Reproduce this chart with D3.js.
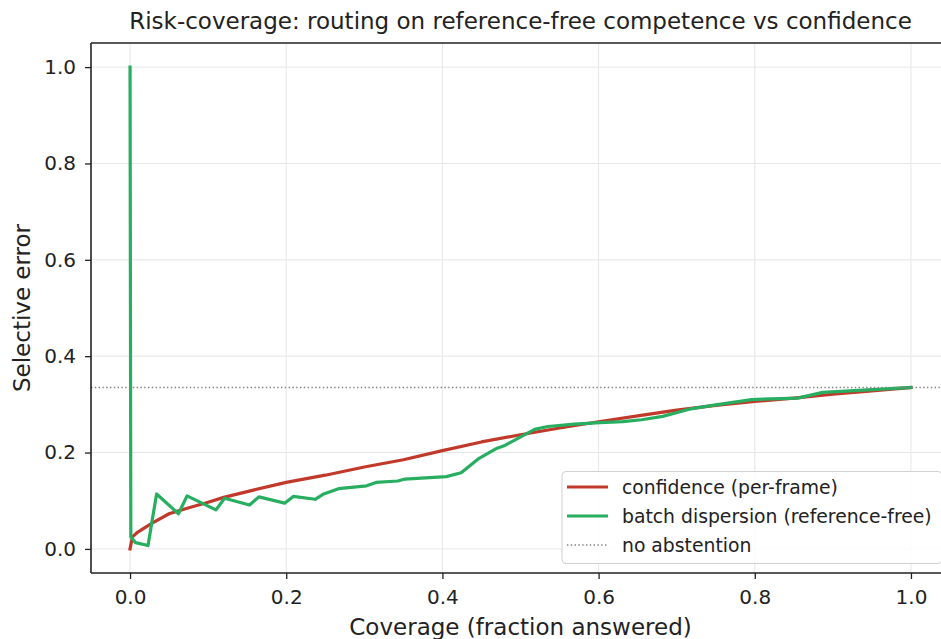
<!DOCTYPE html>
<html>
<head>
<meta charset="utf-8">
<script src="https://cdn.jsdelivr.net/npm/d3@7"></script>
<style>
  html, body { margin: 0; padding: 0; background: #fff; }
  svg { display: block; font-family: "DejaVu Sans", sans-serif; }
</style>
</head>
<body>
<svg id="chart" width="941" height="639"></svg>
<script>
// Risk-coverage curves: selective error vs coverage for two routing scores
const confidenceCoverage = [0, 0.003, 0.01, 0.02, 0.03, 0.05, 0.07, 0.1, 0.12, 0.15, 0.2, 0.25, 0.3, 0.35, 0.4, 0.45, 0.5, 0.55, 0.6, 0.65, 0.7, 0.75, 0.8, 0.85, 0.9, 0.95, 1.0];
const confidenceError    = [0, 0.025, 0.035, 0.045, 0.055, 0.073, 0.083, 0.097, 0.107, 0.119, 0.138, 0.153, 0.170, 0.185, 0.204, 0.222, 0.237, 0.251, 0.264, 0.276, 0.288, 0.298, 0.306, 0.313, 0.321, 0.328, 0.335];

const dispersionCoverage = [0, 0.001, 0.007, 0.023, 0.034, 0.062, 0.073, 0.110, 0.121, 0.153, 0.165, 0.198, 0.209, 0.237, 0.248, 0.267, 0.303, 0.315, 0.343, 0.352, 0.405, 0.424, 0.447, 0.470, 0.479, 0.518, 0.535, 0.569, 0.602, 0.631, 0.655, 0.682, 0.716, 0.750, 0.796, 0.855, 0.887, 1.0];
const dispersionError    = [1.0, 0.025, 0.013, 0.007, 0.114, 0.073, 0.110, 0.081, 0.105, 0.091, 0.108, 0.095, 0.109, 0.103, 0.114, 0.125, 0.131, 0.138, 0.141, 0.145, 0.150, 0.158, 0.188, 0.209, 0.214, 0.248, 0.254, 0.259, 0.262, 0.264, 0.268, 0.275, 0.290, 0.299, 0.310, 0.313, 0.325, 0.335];

const baselineError = 0.335;   // error when every item is answered

const xTicks = [0.0, 0.2, 0.4, 0.6, 0.8, 1.0];
const yTicks = [0.0, 0.2, 0.4, 0.6, 0.8, 1.0];

const seriesNames = ["confidence (per-frame)", "batch dispersion (reference-free)", "no abstention"];
const colors = { confidence: "#c0392b", dispersion: "#27ae60", baseline: "#808080" };

const svg = d3.select("#chart");
const plot = { left: 91, right: 950, top: 43, bottom: 573 };

const x = d3.scaleLinear().domain([-0.05, 1.05]).range([plot.left, plot.right]);
const y = d3.scaleLinear().domain([-0.05, 1.05]).range([plot.bottom, plot.top]);

// grid
const grid = svg.append("g");
grid.selectAll("line.vx").data(xTicks).join("line")
  .attr("x1", d => x(d)).attr("x2", d => x(d))
  .attr("y1", plot.top).attr("y2", plot.bottom)
  .attr("stroke", "#e6e6e6").attr("stroke-width", 1);
grid.selectAll("line.hy").data(yTicks).join("line")
  .attr("y1", d => y(d)).attr("y2", d => y(d))
  .attr("x1", plot.left).attr("x2", plot.right)
  .attr("stroke", "#e6e6e6").attr("stroke-width", 1);

// curves
const toPoints = (xs, ys) => xs.map((v, i) => [v, ys[i]]);
const line = d3.line().x(d => x(d[0])).y(d => y(d[1]));

svg.append("path")
  .datum(toPoints(confidenceCoverage, confidenceError))
  .attr("d", line).attr("fill", "none")
  .attr("stroke", colors.confidence).attr("stroke-width", 3.2)
  .attr("stroke-linejoin", "round").attr("stroke-linecap", "square");

svg.append("path")
  .datum(toPoints(dispersionCoverage, dispersionError))
  .attr("d", line).attr("fill", "none")
  .attr("stroke", colors.dispersion).attr("stroke-width", 3.2)
  .attr("stroke-linejoin", "round").attr("stroke-linecap", "square");

svg.append("line")
  .attr("x1", plot.left).attr("x2", plot.right)
  .attr("y1", y(baselineError)).attr("y2", y(baselineError))
  .attr("stroke", colors.baseline).attr("stroke-width", 1.4)
  .attr("stroke-dasharray", "1.4,2.4");

// axes
const xAxis = svg.append("g")
  .attr("transform", `translate(0,${plot.bottom})`)
  .call(d3.axisBottom(x).tickValues(xTicks).tickFormat(d3.format(".1f")).tickSize(6).tickPadding(11));
const yAxis = svg.append("g")
  .attr("transform", `translate(${plot.left},0)`)
  .call(d3.axisLeft(y).tickValues(yTicks).tickFormat(d3.format(".1f")).tickSize(6).tickPadding(9));

[xAxis, yAxis].forEach(g => {
  g.select(".domain").remove();
  g.selectAll(".tick line").attr("stroke", "#222").attr("stroke-width", 1.3);
  g.selectAll(".tick text").attr("fill", "#222").style("font-size", "20px")
    .style("font-family", "DejaVu Sans, sans-serif");
});

// spines
const spine = svg.append("g").attr("stroke", "#222").attr("stroke-width", 1.6).attr("fill", "none");
spine.append("line").attr("x1", plot.left).attr("x2", plot.left).attr("y1", plot.top).attr("y2", plot.bottom);
spine.append("line").attr("x1", plot.left).attr("x2", plot.right).attr("y1", plot.bottom).attr("y2", plot.bottom);
spine.append("line").attr("x1", plot.left).attr("x2", plot.right).attr("y1", plot.top).attr("y2", plot.top);
spine.append("line").attr("x1", plot.right).attr("x2", plot.right).attr("y1", plot.top).attr("y2", plot.bottom);

// titles
const cx = (plot.left + plot.right) / 2;
svg.append("text").attr("x", cx).attr("y", 29).attr("text-anchor", "middle")
  .attr("fill", "#222").style("font-size", "23px")
  .text("Risk-coverage: routing on reference-free competence vs confidence");
svg.append("text").attr("x", cx).attr("y", 635).attr("text-anchor", "middle")
  .attr("fill", "#222").style("font-size", "23px")
  .text("Coverage (fraction answered)");
svg.append("text")
  .attr("transform", `translate(30,${(plot.top + plot.bottom) / 2}) rotate(-90)`)
  .attr("text-anchor", "middle").attr("fill", "#222").style("font-size", "23px")
  .text("Selective error");

// legend
const legend = svg.append("g").attr("transform", "translate(562,471.5)");
legend.append("rect").attr("width", 380).attr("height", 92).attr("rx", 4)
  .attr("fill", "#fff").attr("fill-opacity", 0.85)
  .attr("stroke", "#d0d0d0").attr("stroke-width", 1);
const legendItems = [
  { name: seriesNames[0], color: colors.confidence, width: 3.2, dash: null },
  { name: seriesNames[1], color: colors.dispersion, width: 3.2, dash: null },
  { name: seriesNames[2], color: colors.baseline, width: 1.4, dash: "1.4,2.4" }
];
legendItems.forEach((item, i) => {
  const ly = 15.5 + i * 29;
  legend.append("line").attr("x1", 5).attr("x2", 46).attr("y1", ly).attr("y2", ly)
    .attr("stroke", item.color).attr("stroke-width", item.width)
    .attr("stroke-dasharray", item.dash);
  legend.append("text").attr("x", 60).attr("y", ly + 6.8)
    .attr("fill", "#222").style("font-size", "18.8px").text(item.name);
});
</script>
</body>
</html>
